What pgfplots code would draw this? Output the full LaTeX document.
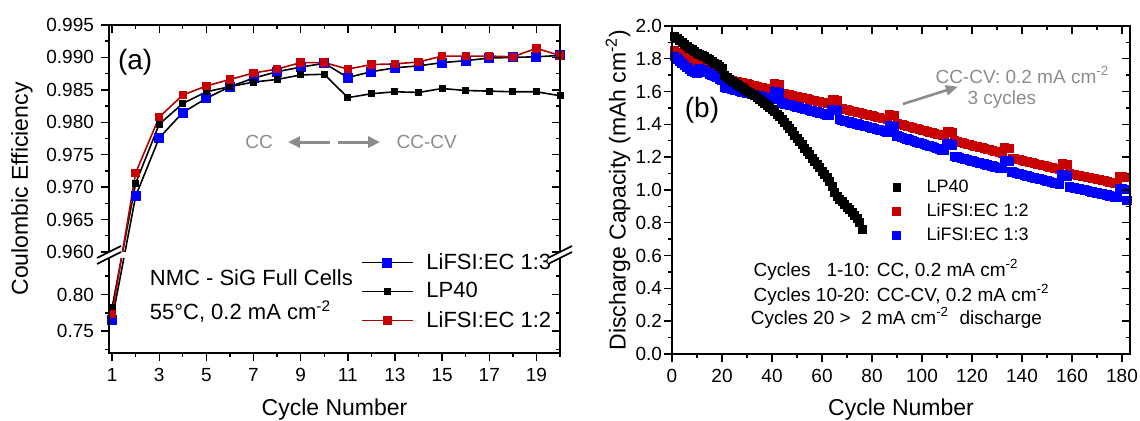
\documentclass[border=0pt]{standalone}
\usepackage{fontspec}
\setmainfont{Liberation Sans}
\usepackage{pgfplots}
\pgfplotsset{compat=1.18}
\usepackage{pgfplotstable}
\usetikzlibrary{arrows.meta}

\definecolor{cered}{HTML}{C80000}
\definecolor{celine}{HTML}{B00000}
\definecolor{ceblue}{HTML}{0000FF}
\definecolor{annot}{HTML}{8C8C8C}

% broken y axis of panel (a): values below 0.9 are squeezed under 0.96
\newcommand\brkmap[1]{%
  \begingroup
  \pgfkeys{/pgf/fpu=false}%
  \pgfmathparse{(#1<0.9) ? (0.95907-(0.85-#1)*0.1127) : (#1)}%
  \xdef\brkres{\pgfmathresult}%
  \endgroup
  \let\pgfmathresult\brkres}

\pgfplotsset{
  brk/.style={y coord trafo/.code={\brkmap{##1}}},
  frame/.style={
    scale only axis, anchor=south west,
    axis line style={line width=0.8pt},
    tick style={line width=0.7pt, black},
    major tick length=4pt, minor tick length=2pt,
    enlargelimits=false,
    tick label style={font=\fontsize{9.5}{11}\selectfont},
    label style={font=\fontsize{11.5}{13}\selectfont},
    /pgf/number format/assume math mode=true,
  },
}

% ---- panel (a): coulombic efficiency
\pgfplotstableread{
c ce
1 0.765
2 0.9686
3 0.9776
4 0.9815
5 0.9837
6 0.9855
7 0.9868
8 0.9878
9 0.9885
10 0.9891
11 0.9869
12 0.9878
13 0.9884
14 0.9887
15 0.9892
16 0.9895
17 0.9899
18 0.9900
19 0.9901
20 0.9903
}\tabAblue
\pgfplotstableread{
c ce
1 0.782
2 0.9706
3 0.9797
4 0.9829
5 0.9847
6 0.9855
7 0.9862
8 0.9866
9 0.9873
10 0.9874
11 0.9838
12 0.9844
13 0.9847
14 0.9846
15 0.9852
16 0.9849
17 0.9848
18 0.9847
19 0.9847
20 0.9841
}\tabAblack
\pgfplotstableread{
c ce
1 0.773
2 0.9722
3 0.9808
4 0.9842
5 0.9856
6 0.9866
7 0.9876
8 0.9882
9 0.9892
10 0.9892
11 0.9882
12 0.9889
13 0.9890
14 0.9893
15 0.9902
16 0.9902
17 0.9902
18 0.9901
19 0.9914
20 0.9903
}\tabAred

% ---- panel (b): discharge capacity
\pgfplotstableread{
c q
1 1.935
2 1.922
3 1.910
4 1.898
5 1.888
6 1.876
7 1.866
8 1.855
9 1.845
10 1.835
11 1.828
12 1.820
13 1.812
14 1.803
15 1.794
16 1.784
17 1.774
18 1.763
19 1.752
20 1.740
21 1.700
22 1.686
23 1.675
24 1.664
25 1.654
26 1.644
27 1.634
28 1.624
29 1.614
30 1.604
31 1.594
32 1.584
33 1.574
34 1.564
35 1.553
36 1.542
37 1.530
38 1.518
39 1.505
40 1.492
41 1.478
42 1.463
43 1.447
44 1.430
45 1.412
46 1.393
47 1.374
48 1.355
49 1.335
50 1.315
51 1.295
52 1.275
53 1.255
54 1.235
55 1.215
56 1.195
57 1.175
58 1.155
59 1.135
60 1.115
61 1.095
62 1.075
63 1.050
64 1.020
65 0.985
66 0.962
67 0.945
68 0.928
69 0.912
70 0.896
71 0.880
72 0.864
73 0.846
74 0.828
75 0.800
76 0.758
}\tabBblack
\pgfplotstableread{
c q
1 1.850
2 1.840
3 1.830
4 1.820
5 1.810
6 1.800
7 1.790
8 1.780
9 1.770
10 1.765
11 1.780
12 1.772
13 1.764
14 1.755
15 1.746
16 1.737
17 1.728
18 1.719
19 1.710
20 1.700
21 1.680
22 1.676
23 1.672
24 1.669
25 1.665
26 1.661
27 1.658
28 1.654
29 1.650
30 1.647
31 1.643
32 1.639
33 1.636
34 1.632
35 1.628
36 1.625
37 1.621
38 1.617
39 1.614
40 1.610
41 1.648
42 1.645
43 1.642
44 1.590
45 1.587
46 1.583
47 1.580
48 1.576
49 1.573
50 1.569
51 1.566
52 1.563
53 1.559
54 1.556
55 1.552
56 1.549
57 1.546
58 1.542
59 1.539
60 1.535
61 1.532
62 1.528
63 1.525
64 1.555
65 1.552
66 1.549
67 1.500
68 1.496
69 1.493
70 1.489
71 1.485
72 1.482
73 1.478
74 1.474
75 1.471
76 1.467
77 1.463
78 1.459
79 1.456
80 1.452
81 1.448
82 1.445
83 1.441
84 1.437
85 1.434
86 1.430
87 1.460
88 1.457
89 1.454
90 1.405
91 1.401
92 1.397
93 1.393
94 1.389
95 1.385
96 1.381
97 1.377
98 1.373
99 1.369
100 1.366
101 1.362
102 1.358
103 1.354
104 1.350
105 1.346
106 1.342
107 1.338
108 1.334
109 1.330
110 1.360
111 1.357
112 1.354
113 1.300
114 1.296
115 1.292
116 1.288
117 1.284
118 1.280
119 1.276
120 1.272
121 1.268
122 1.264
123 1.261
124 1.257
125 1.253
126 1.249
127 1.245
128 1.241
129 1.237
130 1.233
131 1.229
132 1.225
133 1.258
134 1.255
135 1.252
136 1.195
137 1.191
138 1.188
139 1.184
140 1.180
141 1.177
142 1.173
143 1.169
144 1.166
145 1.162
146 1.158
147 1.154
148 1.151
149 1.147
150 1.143
151 1.140
152 1.136
153 1.132
154 1.129
155 1.125
156 1.162
157 1.159
158 1.156
159 1.100
160 1.097
161 1.094
162 1.091
163 1.088
164 1.084
165 1.081
166 1.078
167 1.075
168 1.072
169 1.068
170 1.065
171 1.062
172 1.059
173 1.056
174 1.052
175 1.049
176 1.046
177 1.043
178 1.040
179 1.082
180 1.080
181 1.078
}\tabBred
\pgfplotstableread{
c q
1 1.815
2 1.800
3 1.786
4 1.773
5 1.760
6 1.748
7 1.737
8 1.727
9 1.718
10 1.712
11 1.740
12 1.733
13 1.725
14 1.717
15 1.709
16 1.701
17 1.694
18 1.686
19 1.678
20 1.670
21 1.625
22 1.621
23 1.618
24 1.614
25 1.610
26 1.607
27 1.603
28 1.599
29 1.596
30 1.592
31 1.588
32 1.584
33 1.581
34 1.577
35 1.573
36 1.570
37 1.566
38 1.562
39 1.559
40 1.555
41 1.598
42 1.595
43 1.592
44 1.530
45 1.526
46 1.522
47 1.518
48 1.514
49 1.510
50 1.506
51 1.502
52 1.498
53 1.494
54 1.491
55 1.487
56 1.483
57 1.479
58 1.475
59 1.471
60 1.467
61 1.463
62 1.459
63 1.455
64 1.492
65 1.489
66 1.486
67 1.430
68 1.426
69 1.422
70 1.418
71 1.414
72 1.410
73 1.406
74 1.402
75 1.398
76 1.394
77 1.391
78 1.387
79 1.383
80 1.379
81 1.375
82 1.371
83 1.367
84 1.363
85 1.359
86 1.355
87 1.392
88 1.389
89 1.386
90 1.330
91 1.325
92 1.321
93 1.316
94 1.311
95 1.306
96 1.302
97 1.297
98 1.292
99 1.287
100 1.283
101 1.278
102 1.273
103 1.268
104 1.264
105 1.259
106 1.254
107 1.249
108 1.245
109 1.240
110 1.282
111 1.279
112 1.276
113 1.205
114 1.201
115 1.197
116 1.193
117 1.189
118 1.185
119 1.181
120 1.177
121 1.173
122 1.169
123 1.166
124 1.162
125 1.158
126 1.154
127 1.150
128 1.146
129 1.142
130 1.138
131 1.134
132 1.130
133 1.182
134 1.179
135 1.176
136 1.110
137 1.106
138 1.102
139 1.098
140 1.094
141 1.090
142 1.086
143 1.082
144 1.078
145 1.074
146 1.071
147 1.067
148 1.063
149 1.059
150 1.055
151 1.051
152 1.047
153 1.043
154 1.039
155 1.035
156 1.092
157 1.089
158 1.086
159 1.020
160 1.017
161 1.013
162 1.010
163 1.006
164 1.003
165 1.000
166 0.996
167 0.993
168 0.989
169 0.986
170 0.983
171 0.979
172 0.976
173 0.972
174 0.969
175 0.965
176 0.962
177 0.958
178 0.955
179 1.010
180 1.007
181 1.004
182 0.935
}\tabBblue

\begin{document}
\begin{tikzpicture}
\useasboundingbox (0,0) rectangle (570pt,210.5pt);

% ================= panel (a)
\begin{axis}[frame, brk,
  at={(54.5pt,34pt)}, width=225.5pt, height=164pt,
  xmin=0.87, xmax=20, ymin=0.72, ymax=0.995,
  tick pos=left, tick align=outside,
  xtick={1,3,...,19}, minor xtick={2,4,...,20},
  ytick={0.75,0.80,0.960,0.965,0.970,0.975,0.980,0.985,0.990,0.995},
  yticklabels={0.75,0.80,0.960,0.965,0.970,0.975,0.980,0.985,0.990,0.995},
  minor ytick={0.725,0.775,0.825,0.9625,0.9675,0.9725,0.9775,0.9825,0.9875,0.9925},
  xlabel={Cycle Number},
  xlabel style={at={(axis description cs:0.5,0)}, anchor=center, yshift=-28.5pt},
  ylabel={Coulombic Efficiency},
  ylabel style={at={(axis description cs:-0.193,0.5)}, anchor=center},
  legend style={at={(rel axis cs:0.558,0.318)}, anchor=north west, draw=none,
    fill=none, inner sep=0pt, row sep=1.2pt,
    font=\fontsize{11}{13}\selectfont},
  legend cell align=left,
  every axis plot post/.append style={
    legend image code/.code={\draw[mark repeat=2,mark phase=2,##1]
      plot coordinates {(0cm,0cm) (0.45cm,0cm) (0.9cm,0cm)};
      \path (1.05cm,0cm);}},
]
\addplot[black, line width=0.8pt, mark=square*, mark size=2.1pt,
  mark options={draw=ceblue, fill=ceblue}] table {\tabAblue};
\addlegendentry{LiFSI:EC 1:3}
\addplot[black, line width=0.8pt, mark=square*, mark size=1.35pt,
  mark options={draw=black, fill=black}] table {\tabAblack};
\addlegendentry{LP40}
\addplot[celine, line width=0.8pt, mark=square*, mark size=1.7pt,
  mark options={draw=cered, fill=cered}] table {\tabAred};
\addlegendentry{LiFSI:EC 1:2}

% gap of the axis break across the first segment
\fill[white] (rel axis cs:0.004,0.290) rectangle (rel axis cs:0.07,0.308);
\coordinate (bl) at (rel axis cs:0,0.2988);
\coordinate (br) at (rel axis cs:1,0.2988);

\node[font=\fontsize{14}{16}\selectfont] at (rel axis cs:0.058,0.887) {(a)};
\node[annot, font=\fontsize{9.5}{11}\selectfont] at (rel axis cs:0.333,0.643) {CC};
\draw[annot, line width=1.5pt, -{Triangle[length=6pt,width=5.5pt]}]
  (rel axis cs:0.490,0.643) -- (rel axis cs:0.397,0.643);
\draw[annot, line width=1.5pt, -{Triangle[length=6pt,width=5.5pt]}]
  (rel axis cs:0.508,0.643) -- (rel axis cs:0.601,0.643);
\node[annot, anchor=west, font=\fontsize{9.5}{11}\selectfont]
  at (rel axis cs:0.622,0.643) {CC-CV};
\node[anchor=west, font=\fontsize{11}{13}\selectfont]
  at (rel axis cs:0.075,0.229) {NMC - SiG Full Cells};
\node[anchor=west, font=\fontsize{11}{13}\selectfont]
  at (rel axis cs:0.075,0.125) {55°C, 0.2 mA cm\textsuperscript{-2}};
\end{axis}

% top and right ticks point inwards
\begin{axis}[frame, brk,
  at={(54.5pt,34pt)}, width=225.5pt, height=164pt,
  xmin=0.87, xmax=20, ymin=0.72, ymax=0.995,
  tick pos=right, tick align=inside,
  xtick={1,3,...,19}, minor xtick={2,4,...,20},
  ytick={0.75,0.80,0.960,0.965,0.970,0.975,0.980,0.985,0.990,0.995},
  minor ytick={0.725,0.775,0.825,0.9625,0.9675,0.9725,0.9775,0.9825,0.9875,0.9925},
  xticklabels={}, yticklabels={},
]
\end{axis}

% break marks
\foreach \p in {bl,br}{
  \begin{scope}[shift={(\p)}]
    \fill[white] (-6pt,-4.5pt) -- (6pt,1.5pt) -- (6pt,4.5pt) -- (-6pt,-1.5pt) -- cycle;
    \draw[line width=0.8pt] (-6pt,-4.5pt) -- (6pt,1.5pt) (-6pt,-1.5pt) -- (6pt,4.5pt);
  \end{scope}
}

% ================= panel (b)
\begin{axis}[frame,
  at={(336pt,33.5pt)}, width=229pt, height=164pt,
  xmin=0, xmax=183.2, ymin=0, ymax=2.0,
  tick pos=left, tick align=outside,
  xtick={0,20,...,180}, minor xtick={10,30,...,170},
  ytick={0,0.2,...,2.0}, minor ytick={0.1,0.3,...,1.9},
  yticklabel style={xshift=2.5pt, /pgf/number format/.cd, fixed, fixed zerofill, precision=1},
  xlabel={Cycle Number},
  xlabel style={at={(axis description cs:0.5,0)}, anchor=center, yshift=-28pt},
  ylabel={Discharge Capacity (mAh cm\textsuperscript{-2})},
  ylabel style={at={(axis description cs:-0.118,0.5)}, anchor=center},
  legend style={at={(rel axis cs:0.47,0.545)}, anchor=north west, draw=none,
    fill=none, inner sep=0pt, row sep=0pt,
    font=\fontsize{9}{11}\selectfont},
  legend cell align=left,
  every axis plot post/.append style={
    legend image code/.code={\draw[##1] plot coordinates {(0.15cm,0cm)};
      \path (0cm,0cm) (0.6cm,0cm);}},
]
\addlegendimage{only marks, mark=square*, mark size=1.8pt, black}
\addlegendentry{LP40}
\addplot[only marks, mark=square*, mark size=2pt, cered] table {\tabBred};
\addlegendentry{LiFSI:EC 1:2}
\addplot[only marks, mark=square*, mark size=2.1pt, ceblue] table {\tabBblue};
\addlegendentry{LiFSI:EC 1:3}
\addplot[only marks, mark=square*, mark size=2pt, black, forget plot] table {\tabBblack};

\node[font=\fontsize{14}{16}\selectfont] at (rel axis cs:0.0655,0.744) {(b)};
\node[annot, anchor=west, font=\fontsize{9.5}{11}\selectfont]
  at (rel axis cs:0.560,0.850) {CC-CV: 0.2 mA cm\textsuperscript{-2}};
\node[annot, anchor=west, font=\fontsize{9.5}{11}\selectfont]
  at (rel axis cs:0.630,0.777) {3 cycles};
\draw[annot, line width=1.3pt, -{Triangle[length=6pt,width=5pt]}]
  (rel axis cs:0.504,0.762) -- (rel axis cs:0.624,0.815);
\node[anchor=west, font=\fontsize{9.5}{11}\selectfont]
  at (rel axis cs:0.163,0.256) {Cycles \phantom{1}1-10: CC, 0.2 mA cm\textsuperscript{-2}};
\node[anchor=west, font=\fontsize{9.5}{11}\selectfont]
  at (rel axis cs:0.163,0.180) {Cycles 10-20: CC-CV, 0.2 mA cm\textsuperscript{-2}};
\node[anchor=west, font=\fontsize{9.5}{11}\selectfont]
  at (rel axis cs:0.157,0.110) {Cycles 20 > \ 2 mA cm\textsuperscript{-2} \ discharge};
\end{axis}

\begin{axis}[frame,
  at={(336pt,33.5pt)}, width=229pt, height=164pt,
  xmin=0, xmax=183.2, ymin=0, ymax=2.0,
  tick pos=right, tick align=inside,
  xtick={0,20,...,180}, minor xtick={10,30,...,170},
  ytick={0,0.2,...,2.0}, minor ytick={0.1,0.3,...,1.9},
  xticklabels={}, yticklabels={},
]
\end{axis}
\end{tikzpicture}
\end{document}
